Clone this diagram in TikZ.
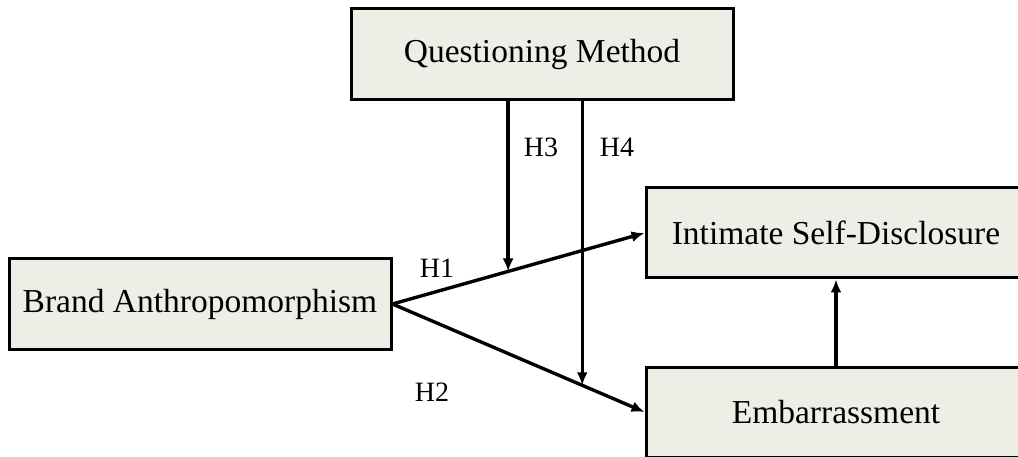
\documentclass[tikz,border=0pt]{standalone}
\usepackage{fontspec}
\setmainfont{Liberation Serif}
\usetikzlibrary{arrows.meta,calc}
\definecolor{boxfill}{RGB}{239,238,230}
\tikzset{
  varbox/.style={draw=black, line width=3pt, fill=boxfill, inner sep=0pt,
    minimum width=380pt, minimum height=90pt,
    font=\fontsize{33.5}{40}\selectfont},
  hyp/.style={line width=3.4pt, -{Latex[length=13pt,width=11pt]}},
  hlab/.style={inner sep=0pt, font=\fontsize{28}{34}\selectfont}
}
\begin{document}
\begin{tikzpicture}[x=1pt,y=-1pt]
\useasboundingbox (0,0) rectangle (1018,457);
\clip (0,0) rectangle (1018,457);
\node[varbox, minimum width=382pt, minimum height=91pt] (qm) at (542,54.5) {Questioning Method};
\node[varbox, minimum width=382pt] (ba) at (200,304) {Brand Anthropomorphism};
\node[varbox] (isd) at (836,233) {Intimate Self-Disclosure};
\node[varbox] (emb) at (836,412) {Embarrassment};
\coordinate (p3) at ($(ba.east)!0.4588!(isd.west)$);
\coordinate (p4) at ($(ba.east)!0.753!(emb.west)$);
\draw[hyp] (ba.east) -- (isd.west);
\draw[hyp] (ba.east) -- (emb.west);
\draw[hyp] (qm.south -| p3) -- (p3);
\draw[hyp] (qm.south -| p4) -- (p4);
\draw[hyp] (emb.north) -- (isd.south);
\node[hlab] (h1) at (437,268) {H1};
\node[hlab] (h2) at (432,392) {H2};
\node[hlab] (h3) at (541,147) {H3};
\node[hlab] (h4) at (617,147) {H4};
\end{tikzpicture}
\end{document}
